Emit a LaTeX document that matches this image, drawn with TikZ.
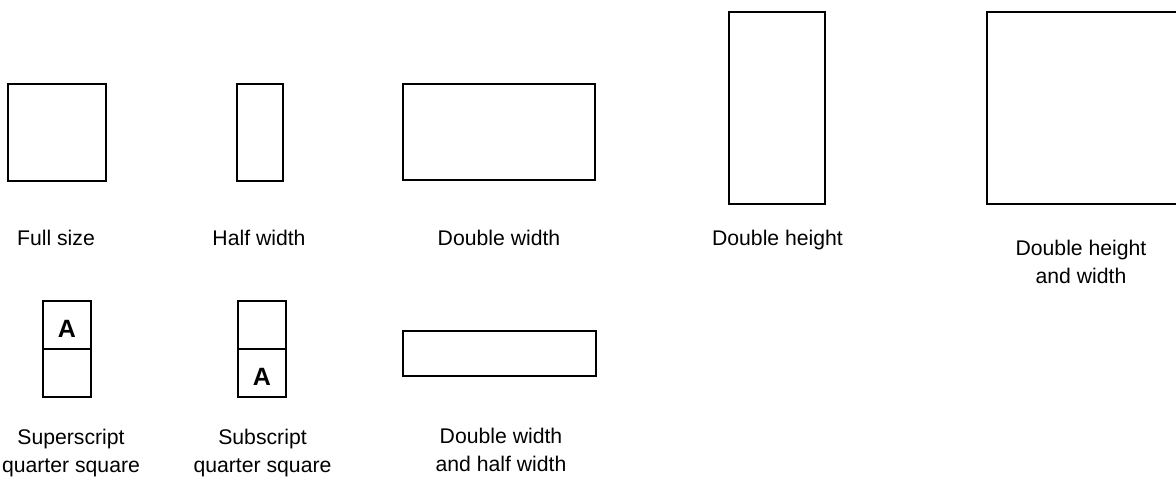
\documentclass[tikz,border=0pt]{standalone}
\usepackage{fontspec}
\setmainfont{Liberation Sans}
\usetikzlibrary{positioning}

\begin{document}
\begin{tikzpicture}[
    x=0.5pt, y=-0.5pt,
    node distance=0pt,
    font=\fontsize{10.6}{14}\selectfont,
    cell/.style={draw, line width=1pt, inner sep=0pt, outer sep=0pt},
    quarter/.style={cell, minimum width=24.15pt, minimum height=24pt},
    glyph/.style={font=\fontsize{12.5}{14}\selectfont\bfseries, text height=13pt},
    caption/.style={align=center, anchor=base, inner sep=0pt}
  ]
    \useasboundingbox (0,0) rectangle (1176,483);
    % top row of cells
    \node[cell, minimum width=48.7pt, minimum height=48.35pt] (full) at (57,132.3) {};
    \node[cell, minimum width=23pt, minimum height=48.35pt] (half) at (259.7,132.3) {};
    \node[cell, minimum width=96.15pt, minimum height=48pt] (dblw) at (498.8,132) {};
    \node[cell, minimum width=48.15pt, minimum height=95.85pt] (dblh) at (776.8,108.2) {};
    \node[cell, minimum width=96.15pt, minimum height=95.85pt] (dblhw) at (1082.9,108.2) {};
    \node[caption] (fullcap) at (56,245) {Full size};
    \node[caption] (halfcap) at (259,245) {Half width};
    \node[caption] (dblwcap) at (499,245) {Double width};
    \node[caption] (dblhcap) at (777.5,245) {Double height};
    \node[caption] (dblhwcap) at (1081,283) {Double height\\and width};
    % bottom row of cells
    \node[quarter, glyph] (supt) at (66.8,324.5) {A};
    \node[quarter, below=of supt] (supb) {};
    \node[quarter] (subt) at (261.8,324.5) {};
    \node[quarter, glyph, below=of subt] (subb) {A};
    \node[cell, minimum width=96.5pt, minimum height=22.65pt] (dblwhw) at (499.5,353.3) {};
    \node[caption] (supcap) at (71,472) {Superscript\\quarter square};
    \node[caption] (subcap) at (262.5,472) {Subscript\\quarter square};
    \node[caption] (dblwhwcap) at (501,471) {Double width\\and half width};
\end{tikzpicture}
\end{document}
